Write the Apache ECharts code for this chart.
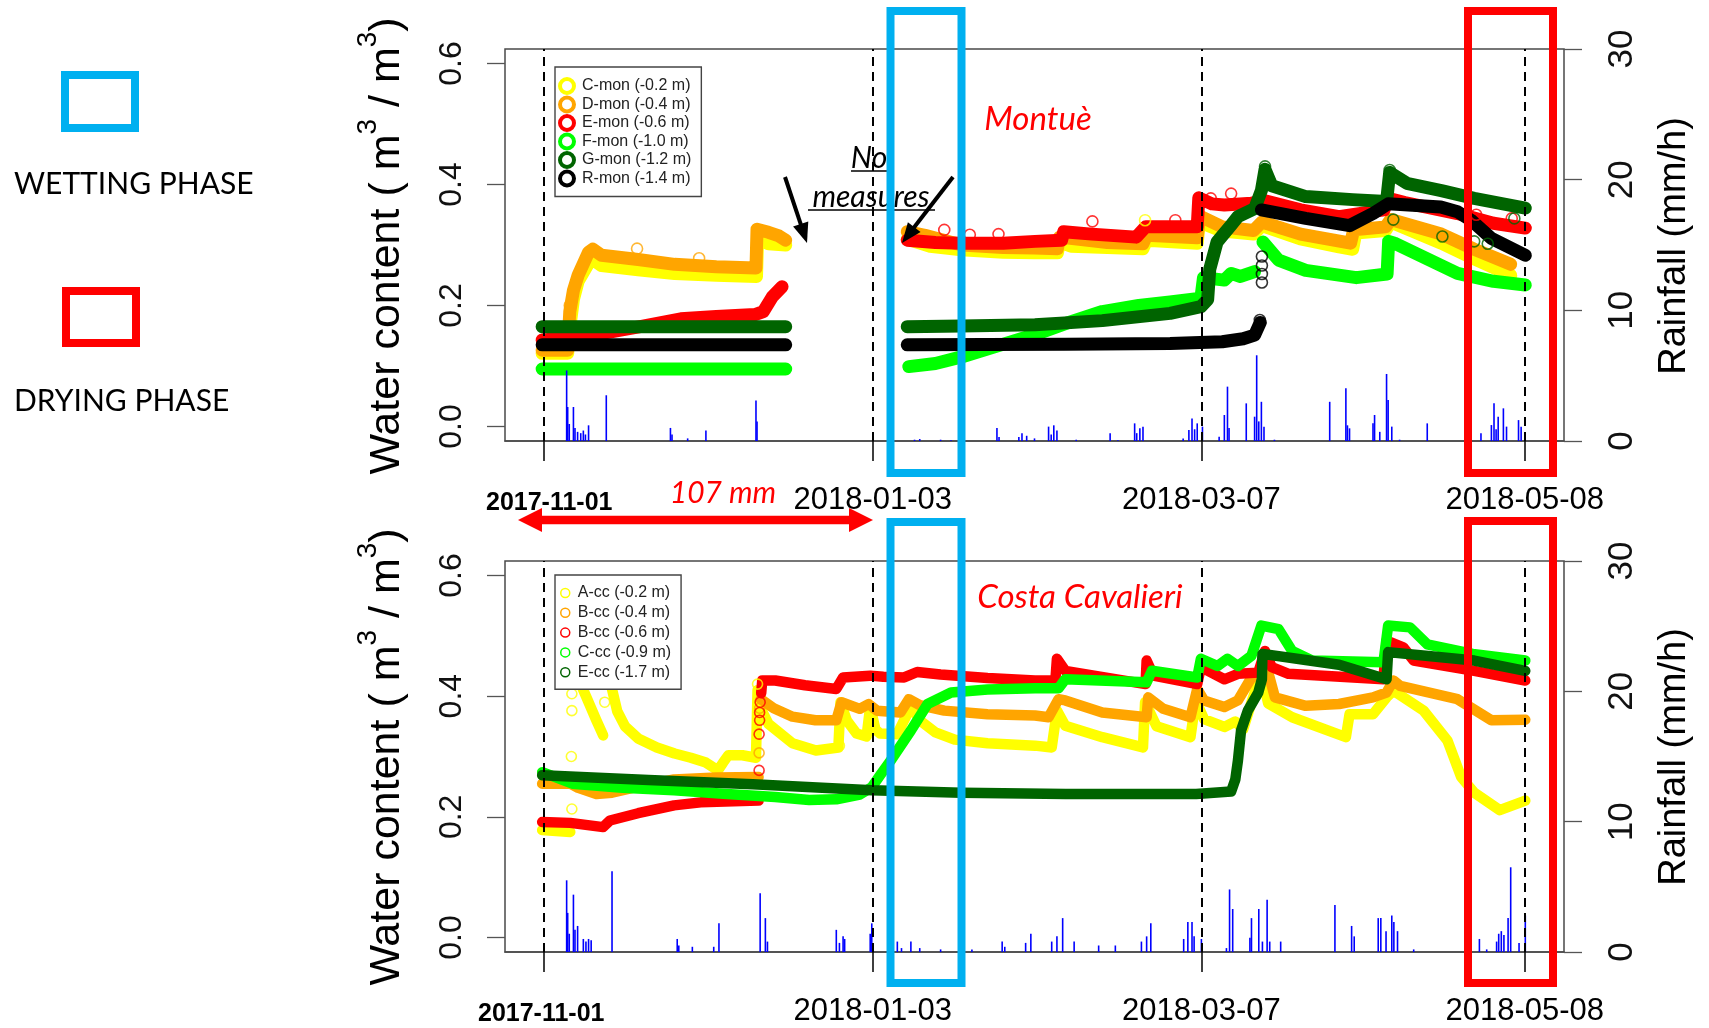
<!DOCTYPE html>
<html>
<head>
<meta charset="utf-8">
<script src="https://cdn.jsdelivr.net/npm/echarts@6/dist/echarts.min.js"></script>
<style>
html,body{margin:0;padding:0;background:#fff}
#chart{width:1709px;height:1028px}
</style>
</head>
<body>
<div id="chart"></div>
<script>
// ---------- time axis: days since 2017-11-01 ----------
const BASE = Date.UTC(2017, 10, 1);
const dayOf = s => { const p = s.split('-').map(Number); return (Date.UTC(p[0], p[1] - 1, p[2]) - BASE) / 86400000; };
const tickDates = ['2017-11-01', '2018-01-03', '2018-03-07', '2018-05-08'];
const tickDays = tickDates.map(dayOf);
const wcTicks = [0, 0.2, 0.4, 0.6];

// ---------- Montuè: volumetric water content [day, m3/m3]; null = no record ----------
const cMon = [[-0.4,0.121],[4.5,0.121],[5.0,0.17],[5.6,0.21],[6.5,0.24],[8.5,0.27],[9.5,0.275],[11,0.266],[18,0.259],[25,0.253],[33,0.25],[40.7,0.248],[40.9,0.31],[43,0.302],[46.3,0.3],[58,null],
  [69.6,0.31],[74,0.298],[80,0.292],[88,0.288],[94,0.287],[98.4,0.287],[98.8,0.305],[101,0.298],[108,0.296],[114.8,0.294],[115.5,0.308],[125.2,0.303],[125.6,0.338],[130,0.323],[136,0.318],[137.6,0.332],[145,0.31],[152.4,0.297],[155,0.293],[155.6,0.32],[161.3,0.324],[162.3,0.338],[172,0.303],[178.3,0.277],[185.3,0.25]];
const dMon = [[-0.4,0.126],[4.5,0.126],[4.9,0.19],[5.6,0.225],[6.5,0.25],[8.5,0.288],[9.3,0.293],[11,0.283],[18,0.276],[25,0.268],[33,0.264],[40.6,0.262],[40.8,0.326],[43,0.321],[45,0.315],[46.3,0.308],[58,null],
  [69.6,0.322],[73,0.316],[80,0.3],[88,0.296],[94,0.295],[98.4,0.294],[98.8,0.313],[108,0.304],[114.8,0.302],[115.5,0.316],[125.2,0.312],[125.6,0.348],[130,0.33],[136,0.324],[137.6,0.338],[145,0.318],[154.6,0.303],[155.2,0.325],[161.3,0.33],[162.3,0.342],[172,0.318],[178.3,0.293],[185.3,0.268]];
const eMon = [[-0.4,0.143],[5.4,0.147],[12,0.155],[18.4,0.165],[26.2,0.178],[33,0.182],[40.4,0.185],[42,0.19],[43.7,0.214],[45.6,0.231],[58,null],
  [69.6,0.308],[75,0.304],[80,0.303],[88,0.303],[94.1,0.306],[99.2,0.308],[99.6,0.322],[105,0.318],[113.5,0.313],[115.3,0.33],[125.2,0.33],[125.5,0.378],[128,0.368],[130.4,0.366],[135.6,0.369],[138.2,0.373],[145,0.358],[152.4,0.347],[161,0.358],[161.8,0.377],[165,0.37],[175.1,0.352],[182,0.336],[188.1,0.328]];
const fMon = [[-0.4,0.095],[46.3,0.095],[58,null],
  [69.9,0.099],[75,0.104],[80,0.115],[86.5,0.132],[94.1,0.152],[100.6,0.172],[107,0.19],[114,0.2],[120,0.206],[125.9,0.212],[126.4,0.246],[130.4,0.242],[131.7,0.253],[133.5,0.248],[136.2,0.256],[137,null],
  [137.8,0.305],[140.8,0.275],[146,0.258],[155.7,0.246],[161.6,0.252],[161.9,0.306],[163,0.303],[175.1,0.253],[182,0.24],[188.1,0.234]];
const gMon = [[-0.4,0.165],[46.3,0.165],[58,null],
  [69.6,0.165],[80,0.166],[94.1,0.168],[107,0.175],[120,0.187],[125.9,0.198],[127.2,0.21],[127.6,0.26],[129,0.305],[131.7,0.333],[133,0.347],[136.2,0.36],[137.5,0.39],[138.2,0.425],[139.5,0.398],[146,0.38],[155,0.375],[161.5,0.372],[162.1,0.42],[165.4,0.402],[172,0.39],[178.3,0.377],[188.1,0.361]];
const rMon = [[-0.4,0.135],[46.3,0.135],[58,null],
  [69.6,0.135],[100,0.136],[120,0.137],[130,0.14],[134,0.145],[136.2,0.151],[137.3,0.172],[137.4,null],
  [137.5,0.358],[146,0.344],[154.4,0.332],[158.9,0.352],[161.8,0.368],[171.9,0.363],[175.1,0.355],[177.7,0.341],[181.6,0.311],[188.1,0.283]];

// isolated readings drawn as single rings
const cMonDots = [[115.2,0.341]];
const dMonDots = [[17.8,0.294],[29.7,0.278],[4.9,0.2]];
const eMonDots = [[105.1,0.339],[121,0.341],[127.8,0.377],[131.7,0.385],[178.7,0.35],[185.5,0.344],[76.7,0.325],[81.6,0.317],[87.1,0.318]];
const gMonDots = [[138.2,0.43],[162.1,0.424],[162.8,0.342],[172.2,0.314],[178.3,0.306],[180.9,0.302],[186,0.344]];
const rMonDots = [[137.6,0.281],[137.6,0.266],[137.6,0.252],[137.6,0.238],[137.2,0.176]];

// ---------- Costa Cavalieri: volumetric water content [day, m3/m3] ----------
const aCc = [[-0.4,0.178],[5.0,0.175],[5.2,null],[5.3,0.46],[6,0.44],[8,0.4],[10,0.36],[11.3,0.335],[11.4,null],[11.5,0.47],[12.5,0.43],[14,0.375],[15.5,0.35],[18,0.33],[21.6,0.315],[25,0.305],[28.1,0.298],[31,0.29],[33.3,0.277],[34.3,0.29],[35.3,0.302],[38,0.302],[40.6,0.298],[40.9,0.41],[41.5,0.38],[43,0.354],[47.6,0.322],[52.1,0.31],[56.4,0.315],[56.8,0.39],[58,0.36],[59.9,0.338],[61.8,0.333],[62.5,0.383],[63.5,0.345],[64.4,0.338],[67.7,0.337],[70.3,0.383],[72,0.36],[75,0.34],[78.7,0.328],[85,0.322],[94.1,0.318],[97.3,0.315],[98.3,0.376],[99.9,0.351],[107,0.332],[114.8,0.315],[115.2,0.39],[117.4,0.35],[123.9,0.332],[124.9,0.393],[126.5,0.362],[130.4,0.349],[132.5,0.358],[134,0.345],[135.6,0.39],[137.5,0.438],[138.8,0.388],[143.4,0.365],[153.7,0.332],[154.4,0.37],[158.9,0.37],[161.5,0.398],[162.8,0.409],[168.6,0.376],[173.2,0.326],[175.8,0.266],[178.3,0.24],[183.2,0.211],[188.1,0.227]];
const bCc04 = [[-0.4,0.255],[5,0.255],[6.5,0.248],[10,0.238],[13,0.24],[18,0.25],[24.9,0.262],[33,0.265],[41.1,0.266],[41.3,null],[41.5,0.395],[44,0.38],[47.6,0.366],[52,0.36],[56,0.36],[57,0.39],[60.5,0.379],[62.2,0.387],[63.8,0.376],[68.3,0.373],[69.9,0.395],[72,0.385],[76.7,0.376],[85,0.37],[94.1,0.368],[96.7,0.365],[98.6,0.395],[99.9,0.393],[107,0.373],[115.5,0.365],[115.8,0.398],[118.7,0.379],[123.9,0.365],[125.2,0.412],[126.5,0.393],[130.4,0.382],[133,0.393],[135.6,0.431],[138.8,0.44],[140.1,0.398],[146,0.384],[152.4,0.387],[158.9,0.398],[161.5,0.406],[162.8,0.426],[164.1,0.417],[175.1,0.395],[181.6,0.36],[188.1,0.361]];
const bCc06 = [[-0.4,0.1915],[5,0.19],[11.3,0.183],[12.6,0.194],[18,0.206],[24.9,0.219],[30,0.224],[41.1,0.227],[41.3,null],[41.6,0.405],[41.8,0.426],[44.3,0.426],[50,0.418],[56,0.412],[57.3,0.431],[62.5,0.434],[65,0.432],[69,0.431],[71.5,0.44],[76,0.436],[85,0.43],[94.1,0.426],[98,0.426],[98.3,0.462],[99.9,0.442],[115.3,0.42],[115.5,0.459],[116.8,0.434],[125.2,0.42],[125.9,0.448],[130.4,0.428],[133,0.437],[136.9,0.439],[138.2,0.475],[139.5,0.448],[142.7,0.437],[160.9,0.428],[161.5,0.492],[164.7,0.481],[166.7,0.459],[178.3,0.442],[188.1,0.426]];
const cCc = [[-0.4,0.274],[5.4,0.255],[15,0.248],[24.9,0.244],[35,0.238],[44.3,0.233],[50.8,0.228],[56,0.229],[60.5,0.237],[62.8,0.249],[64.5,0.27],[66.4,0.293],[70.3,0.343],[73.5,0.387],[78,0.406],[85,0.411],[94.1,0.413],[98.6,0.413],[99.9,0.428],[115.5,0.423],[116.5,0.442],[125.2,0.431],[125.9,0.462],[129.1,0.45],[131,0.462],[133,0.45],[135.6,0.467],[137.5,0.517],[140.8,0.511],[143.4,0.475],[147.2,0.459],[160.9,0.456],[161.8,0.517],[166,0.514],[169.3,0.486],[178,0.47],[188.1,0.459]];
const eCc = [[-0.4,0.269],[20,0.261],[40,0.254],[62.8,0.244],[80,0.24],[100,0.238],[125,0.238],[131.7,0.242],[132.5,0.262],[133,0.293],[133.6,0.343],[134.9,0.376],[136.9,0.406],[137.6,0.428],[137.7,0.47],[146,0.46],[152.4,0.452],[161.5,0.428],[161.8,0.473],[170,0.466],[178.3,0.459],[188.1,0.442]];

const aCcDots = [[5.3,0.376],[5.3,0.404],[5.3,0.213],[5.2,0.3],[11.6,0.39],[56.6,0.318],[40.9,0.42]];
const bCc04Dots = [[41.2,0.306],[41.3,0.38]];
const bCc06Dots = [[41.2,0.337],[41.2,0.277],[41.3,0.36],[41.3,0.373],[41.4,0.39]];

// ---------- hourly rainfall [day, mm/h] ----------
const rainMontue = [[4.3,5.4],[4.5,2.6],[4.8,1.3],[5.6,2.6],[5.9,1.0],[6.4,0.7],[7.0,0.6],[7.5,0.8],[7.9,0.5],[8.5,1.2],[11.9,3.5],[24.2,1.0],[24.5,0.5],[27.5,0.2],[31.0,0.8],[40.6,3.1],[40.8,1.5],[71,0.1],[72,0.15],[76,0.1],[78,0.05],[86.8,1.0],[87.2,0.3],[91.0,0.3],[91.6,0.6],[92.5,0.4],[94,0.2],[96.7,1.1],[97.2,0.5],[97.7,1.2],[98.3,0.8],[102,0.1],[108.5,0.6],[110,0.05],[113.2,1.35],[113.6,0.6],[114.2,0.97],[114.8,1.1],[122.5,0.2],[123.6,0.84],[124.2,1.73],[124.7,0.9],[125.2,1.35],[126.2,1.1],[129.4,0.33],[130.4,1.99],[131,4.16],[131.3,1.0],[134.6,2.88],[136.2,1.86],[136.6,6.56],[137,1.5],[137.5,3.0],[138,1.1],[140,0.1],[150.6,3.0],[153.7,4.03],[154,1.2],[154.4,0.97],[158.9,1.35],[159.2,1.99],[160.2,0.7],[161.5,5.13],[161.8,3.14],[162.5,1.1],[164,0.1],[169.3,1.35],[179.6,0.6],[181.6,1.22],[182.1,2.88],[182.5,0.9],[182.9,1.86],[183.9,2.5],[184.5,1.1],[186.8,1.6],[187.3,1.1]];
const rainCosta = [[4.3,5.5],[4.5,3.0],[4.8,1.4],[5.6,4.4],[5.9,1.7],[6.4,2.0],[7.5,1.0],[8.0,0.8],[8.5,1.0],[9.0,0.9],[13.0,6.2],[25.5,1.0],[25.8,0.5],[28.4,0.4],[32.5,0.4],[33.5,2.2],[41.4,4.5],[42.4,2.6],[42.8,0.8],[56.0,1.7],[56.6,0.7],[57.3,1.2],[57.6,1.0],[62.5,1.4],[62.8,2.2],[67.7,0.8],[68.5,0.3],[70.3,0.8],[72,0.3],[76,0.2],[80,0.2],[82,0.2],[87.8,0.8],[88.3,0.4],[92.3,0.7],[93.3,1.4],[97.3,0.8],[98.3,1.2],[99.4,2.6],[101.6,0.8],[106.3,0.5],[109.5,0.5],[114.5,0.8],[115.5,1.2],[116.3,2.2],[122.6,1.0],[123.4,2.3],[124.2,2.3],[124.6,1.2],[126.0,1.0],[130.8,0.3],[131.4,4.8],[132.0,3.3],[135.3,1.1],[135.6,2.6],[137.0,3.3],[137.7,0.8],[138.6,4.0],[139.1,0.8],[141.2,0.8],[151.6,3.6],[154.8,2.0],[155.3,1.2],[159.9,2.6],[160.4,2.6],[161.4,1.6],[162.5,2.8],[162.9,2.3],[163.6,1.6],[166.7,0.2],[179.3,1.0],[180.7,0.2],[182.6,0.8],[183.0,1.4],[183.5,1.6],[184.0,1.3],[184.8,2.6],[185.3,6.5],[186.9,0.7],[188.1,2.8]];

// ---------- styling ----------
const SANS = '"Liberation Sans", Arial, Helvetica, sans-serif';
const HUMAN = 'Lato, "Open Sans", sans-serif';
const C = { yellow: '#FFFF00', orange: '#FFA500', red: '#FF0000', lime: '#00FF00', dkgreen: '#006400', black: '#000000' };

const montueSeries = [
  { name: 'C-mon (-0.2 m)', data: cMon, dots: cMonDots, color: C.yellow },
  { name: 'D-mon (-0.4 m)', data: dMon, dots: dMonDots, color: C.orange },
  { name: 'E-mon (-0.6 m)', data: eMon, dots: eMonDots, color: C.red },
  { name: 'F-mon (-1.0 m)', data: fMon, dots: [], color: C.lime },
  { name: 'G-mon (-1.2 m)', data: gMon, dots: gMonDots, color: C.dkgreen },
  { name: 'R-mon (-1.4 m)', data: rMon, dots: rMonDots, color: C.black }
];
const costaSeries = [
  { name: 'A-cc (-0.2 m)', data: aCc, dots: aCcDots, color: C.yellow },
  { name: 'B-cc (-0.4 m)', data: bCc04, dots: bCc04Dots, color: C.orange },
  { name: 'B-cc (-0.6 m)', data: bCc06, dots: bCc06Dots, color: C.red },
  { name: 'C-cc (-0.9 m)', data: cCc, dots: [], color: C.lime },
  { name: 'E-cc (-1.7 m)', data: eCc, dots: [], color: C.dkgreen }
];

// axis ranges padded by 4% on each side
const span = tickDays[tickDays.length - 1] - tickDays[0];
const xMin = tickDays[0] - 0.04 * span, xMax = tickDays[tickDays.length - 1] + 0.04 * span;
const wcMin = -0.04 * 0.6, wcMax = 0.6 + 0.04 * 0.6;

function toLine(arr) { return arr.map(p => [p[0], p[1] === null ? '-' : p[1]]); }

function xAxisFor(gi, boldPad) {
  return {
    type: 'value', gridIndex: gi, position: 'bottom', min: xMin, max: xMax,
    axisLine: { show: true, onZero: false, lineStyle: { color: '#4a4a4a', width: 1.5 } },
    splitLine: { show: false },
    axisTick: { show: true, inside: false, customValues: tickDays, length: 20, lineStyle: { color: '#000', width: 1.5 } },
    axisLabel: {
      customValues: tickDays, margin: 44, color: '#000', fontFamily: SANS, fontSize: 31,
      formatter: v => { const i = tickDays.indexOf(v); return i === 0 ? '{b|' + tickDates[0] + '}' : tickDates[i]; },
      rich: { b: { fontFamily: SANS, fontSize: 25, fontWeight: 'bold', color: '#000', padding: boldPad } }
    }
  };
}
function wcAxis(gi) {
  return {
    type: 'value', gridIndex: gi, position: 'left', min: wcMin, max: wcMax,
    axisLine: { show: false, onZero: false }, splitLine: { show: false },
    axisTick: { show: true, customValues: wcTicks, length: 18, lineStyle: { color: '#555', width: 1.3 } },
    axisLabel: { customValues: wcTicks, rotate: 90, margin: 37, color: '#111', fontFamily: SANS, fontSize: 32, formatter: v => v.toFixed(1) }
  };
}
function rainAxis(gi) {
  return {
    type: 'value', gridIndex: gi, position: 'right', min: 0, max: 30, interval: 10,
    axisLine: { show: false, onZero: false }, splitLine: { show: false },
    axisTick: { show: true, length: 18, lineStyle: { color: '#555', width: 1.3 } },
    axisLabel: { rotate: 90, margin: 41, color: '#111', fontFamily: SANS, fontSize: 35 }
  };
}

function buildSeries(list, xi, yi, width, dotSize) {
  const out = [];
  list.forEach(s => {
    out.push({
      type: 'line', name: s.name, xAxisIndex: xi, yAxisIndex: yi, data: toLine(s.data),
      showSymbol: false, symbol: 'none', connectNulls: false, z: 2,
      lineStyle: { color: s.color, width: width, cap: 'round', join: 'round' },
      itemStyle: { color: s.color }, silent: true
    });
    if (s.dots.length) {
      out.push({
        type: 'scatter', name: s.name + ' single', xAxisIndex: xi, yAxisIndex: yi, data: s.dots,
        symbol: 'circle', symbolSize: dotSize, z: 2, silent: true,
        itemStyle: { color: 'rgba(0,0,0,0)', borderColor: s.color, borderWidth: 1.6 }
      });
    }
  });
  return out;
}
function rainSeries(data, xi, yi) {
  return {
    type: 'bar', name: 'rain' + xi, xAxisIndex: xi, yAxisIndex: yi, data: data, barWidth: 1.6, z: 3, silent: true,
    itemStyle: { color: '#0000FF' },
    markLine: {
      symbol: 'none', silent: true, label: { show: false }, animation: false,
      lineStyle: { type: [9, 6], color: '#000', width: 2 },
      data: tickDays.map(d => ({ xAxis: d }))
    }
  };
}

function legendFor(list, left, top, ringW, size, gap, pad) {
  return {
    data: list.map(s => ({ name: s.name, itemStyle: { color: '#fff', borderColor: s.color, borderWidth: ringW } })),
    orient: 'vertical', left: left, top: top, icon: 'circle', itemWidth: size + 6, itemHeight: size, itemGap: gap,
    padding: pad, backgroundColor: '#fff', borderColor: '#444', borderWidth: 1.4, selectedMode: false,
    textStyle: { fontFamily: SANS, fontSize: 16, color: '#222' }
  };
}

// ---------- annotations ----------
function arrow(x1, y1, x2, y2, color, w, headLen, headHalf) {
  const dx = x2 - x1, dy = y2 - y1, L = Math.hypot(dx, dy), ux = dx / L, uy = dy / L;
  const bx = x2 - ux * headLen, by = y2 - uy * headLen;
  return [
    { type: 'line', z: 50, shape: { x1: x1, y1: y1, x2: bx + ux * 2, y2: by + uy * 2 }, style: { stroke: color, lineWidth: w } },
    { type: 'polygon', z: 50, shape: { points: [[x2, y2], [bx - uy * headHalf, by + ux * headHalf], [bx + uy * headHalf, by - ux * headHalf]] }, style: { fill: color } }
  ];
}
function frame(x, y, w, h, color) {
  return { type: 'rect', z: 100, shape: { x: x, y: y, width: w, height: h }, style: { fill: 'none', stroke: color, lineWidth: 8, lineJoin: 'miter' } };
}
function label(x, y, text, font, color, align, rot) {
  return { type: 'text', z: 60, x: x, y: y, rotation: rot || 0,
    style: { text: text, font: font, fill: color, align: align || 'center', verticalAlign: 'middle', textAlign: align || 'center', textVerticalAlign: 'middle' } };
}
function wcTitle(cy) {
  return { type: 'text', z: 60, x: 387, y: cy, rotation: Math.PI / 2,
    style: {
      text: '{a|Water content ( m}{s|3}{a| / m}{s|3}{a|)}', fill: '#000',
      align: 'center', verticalAlign: 'middle', textAlign: 'center', textVerticalAlign: 'middle',
      rich: {
        a: { fontFamily: SANS, fontSize: 43, lineHeight: 66, verticalAlign: 'middle', fill: '#000' },
        s: { fontFamily: SANS, fontSize: 28, lineHeight: 28, verticalAlign: 'top', fill: '#000' }
      }
    } };
}

const graphics = [].concat(
  [
    frame(65, 75, 70, 53, '#00B0F0'),
    label(14, 184, 'WETTING PHASE', '30px ' + HUMAN, '#000', 'left'),
    frame(66, 291, 70, 52, '#FF0000'),
    label(14, 401, 'DRYING PHASE', '30px ' + HUMAN, '#000', 'left'),
    wcTitle(246), wcTitle(757),
    label(1675, 246, 'Rainfall (mm/h)', '38px ' + SANS, '#000', 'center', Math.PI / 2),
    label(1675, 757, 'Rainfall (mm/h)', '38px ' + SANS, '#000', 'center', Math.PI / 2),
    label(1038, 119, 'Montuè', 'italic 33px ' + HUMAN, '#FF0000'),
    label(1080, 597, 'Costa Cavalieri', 'italic 33px ' + HUMAN, '#FF0000'),
    label(723, 493, '107 mm', 'italic 30px ' + HUMAN, '#FF0000'),
    label(869, 158, 'No', 'italic 30px ' + HUMAN, '#000'),
    label(871, 197, 'measures', 'italic 30px ' + HUMAN, '#000'),
    { type: 'line', z: 50, shape: { x1: 851, y1: 171, x2: 888, y2: 171 }, style: { stroke: '#000', lineWidth: 1.5 } },
    { type: 'line', z: 50, shape: { x1: 808, y1: 210, x2: 935, y2: 210 }, style: { stroke: '#000', lineWidth: 1.5 } },
    { type: 'line', z: 50, shape: { x1: 538, y1: 520, x2: 853, y2: 520 }, style: { stroke: '#FF0000', lineWidth: 8.5 } },
    { type: 'polygon', z: 50, shape: { points: [[518, 520], [542, 508], [542, 532]] }, style: { fill: '#FF0000' } },
    { type: 'polygon', z: 50, shape: { points: [[873, 520], [849, 508], [849, 532]] }, style: { fill: '#FF0000' } }
  ],
  arrow(785, 177, 807, 243, '#000', 4, 20, 8),
  arrow(953, 177, 902, 243, '#000', 4, 20, 8),
  [
    frame(890.5, 11, 71, 462, '#00B0F0'),
    frame(890.5, 522, 71, 461, '#00B0F0'),
    frame(1468, 11, 85, 462, '#FF0000'),
    frame(1468, 521, 85, 462, '#FF0000')
  ]
);

const chart = echarts.init(document.getElementById('chart'), null, { renderer: 'canvas' });
chart.setOption({
  animation: false,
  backgroundColor: '#fff',
  grid: [
    { left: 505, top: 49, width: 1059, height: 392, show: true, borderColor: '#4a4a4a', borderWidth: 1.5, containLabel: false },
    { left: 505, top: 561, width: 1059, height: 391, show: true, borderColor: '#4a4a4a', borderWidth: 1.5, containLabel: false }
  ],
  xAxis: [xAxisFor(0, [6, 0, 0, 10]), xAxisFor(1, [6, 6, 0, 0])],
  yAxis: [wcAxis(0), rainAxis(0), wcAxis(1), rainAxis(1)],
  legend: [
    legendFor(montueSeries, 555, 67, 4, 14, 0.5, [10, 10, 9, 3]),
    legendFor(costaSeries, 555, 575, 1.5, 9, 3.8, [10, 10, 9, 5])
  ],
  series: [].concat(
    [rainSeries(rainMontue, 0, 1)],
    buildSeries(montueSeries, 0, 0, 13, 11),
    [rainSeries(rainCosta, 1, 3)],
    buildSeries(costaSeries, 1, 2, 10.5, 10)
  ),
  graphic: graphics
});
</script>
</body>
</html>
